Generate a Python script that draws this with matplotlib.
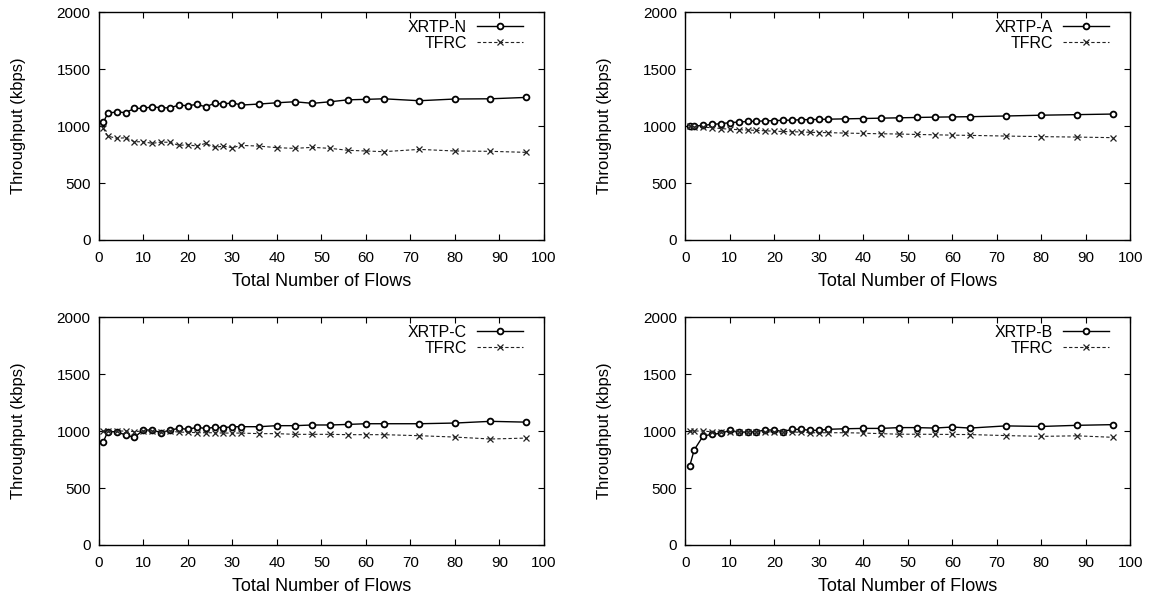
import matplotlib
matplotlib.use("Agg")
import matplotlib.pyplot as plt

plt.rcParams['font.family'] = ['Liberation Sans', 'DejaVu Sans']

flows = [1, 2, 4, 6, 8, 10, 12, 14, 16, 18, 20, 22, 24, 26, 28, 30, 32,
         36, 40, 44, 48, 52, 56, 60, 64, 72, 80, 88, 96]

xrtp_n = [1032, 1111, 1125, 1117, 1155, 1155, 1169, 1160, 1160, 1184, 1178, 1190,
          1169, 1199, 1193, 1204, 1184, 1193, 1204, 1213, 1199, 1213, 1230, 1234,
          1239, 1222, 1237, 1239, 1251]
tfrc_n = [979, 912, 892, 897, 862, 862, 848, 859, 857, 830, 836, 824, 848, 813,
          824, 810, 830, 824, 810, 804, 813, 804, 787, 781, 775, 795, 781, 778, 769]

xrtp_a = [1000, 1000, 1005, 1015, 1020, 1030, 1035, 1040, 1042, 1045, 1048, 1050,
          1052, 1055, 1057, 1058, 1060, 1063, 1066, 1069, 1072, 1075, 1078, 1080,
          1082, 1088, 1095, 1100, 1105]
tfrc_a = [1000, 995, 990, 985, 978, 972, 968, 965, 962, 958, 955, 952, 950, 948,
          945, 943, 942, 938, 935, 932, 930, 926, 923, 920, 918, 912, 907, 903, 898]

xrtp_c = [905, 994, 994, 965, 945, 1009, 1009, 985, 1009, 1023, 1015, 1032, 1023,
          1032, 1029, 1038, 1038, 1038, 1047, 1047, 1053, 1053, 1058, 1064, 1064,
          1064, 1070, 1085, 1078]
tfrc_c = [1000, 1000, 1000, 1000, 995, 1000, 1000, 990, 1000, 990, 990, 985, 985,
          985, 982, 982, 982, 977, 977, 971, 971, 971, 968, 968, 968, 959, 947, 930, 938]

xrtp_b = [693, 834, 956, 971, 980, 1006, 991, 991, 995, 1009, 1009, 995, 1015,
          1015, 1006, 1006, 1015, 1020, 1023, 1023, 1030, 1030, 1026, 1035, 1026,
          1045, 1040, 1050, 1056]
tfrc_b = [1000, 1000, 1000, 993, 993, 995, 993, 993, 993, 993, 993, 990, 990, 990,
          985, 985, 985, 985, 982, 977, 972, 972, 971, 970, 969, 960, 953, 958, 945]

panels = [
    ('XRTP-N', xrtp_n, tfrc_n),
    ('XRTP-A', xrtp_a, tfrc_a),
    ('XRTP-C', xrtp_c, tfrc_c),
    ('XRTP-B', xrtp_b, tfrc_b),
]
positions = [
    [0.0855, 0.602, 0.385, 0.378],
    [0.5928, 0.602, 0.385, 0.378],
    [0.0855, 0.0962, 0.385, 0.378],
    [0.5928, 0.0962, 0.385, 0.378],
]

fig = plt.figure(figsize=(11.56, 6.03), dpi=100)

for (name, xrtp, tfrc), pos in zip(panels, positions):
    ax = fig.add_axes(pos)
    ax.plot(flows, xrtp, color='black', lw=1.0, marker='o', ms=4.2,
            mfc='white', mec='black', mew=1.3, label=name)
    ax.plot(flows, tfrc, color='#222222', lw=0.8, ls=(0, (3, 2)), marker='x',
            ms=4, mew=0.9, label='TFRC')
    ax.set_xlim(0, 100)
    ax.set_ylim(0, 2000)
    ax.set_xticks(range(0, 101, 10))
    ax.set_yticks(range(0, 2001, 500))
    ax.tick_params(direction='in', top=True, right=True, length=4, width=0.8,
                   labelsize=11, pad=6)
    ax.tick_params(axis='x', pad=8)
    for sp in ax.spines.values():
        sp.set_linewidth(1.0)
    ax.set_xlabel('Total Number of Flows', fontsize=13, labelpad=6)
    ax.set_ylabel('Throughput (kbps)', fontsize=12, labelpad=22)
    ax.legend(loc='upper right', bbox_to_anchor=(0.967, 0.993), frameon=False,
              markerfirst=False, fontsize=11.5, handlelength=2.9,
              borderaxespad=0.0, labelspacing=0.05, handletextpad=0.6)

fig.savefig('out.png', dpi=100)
